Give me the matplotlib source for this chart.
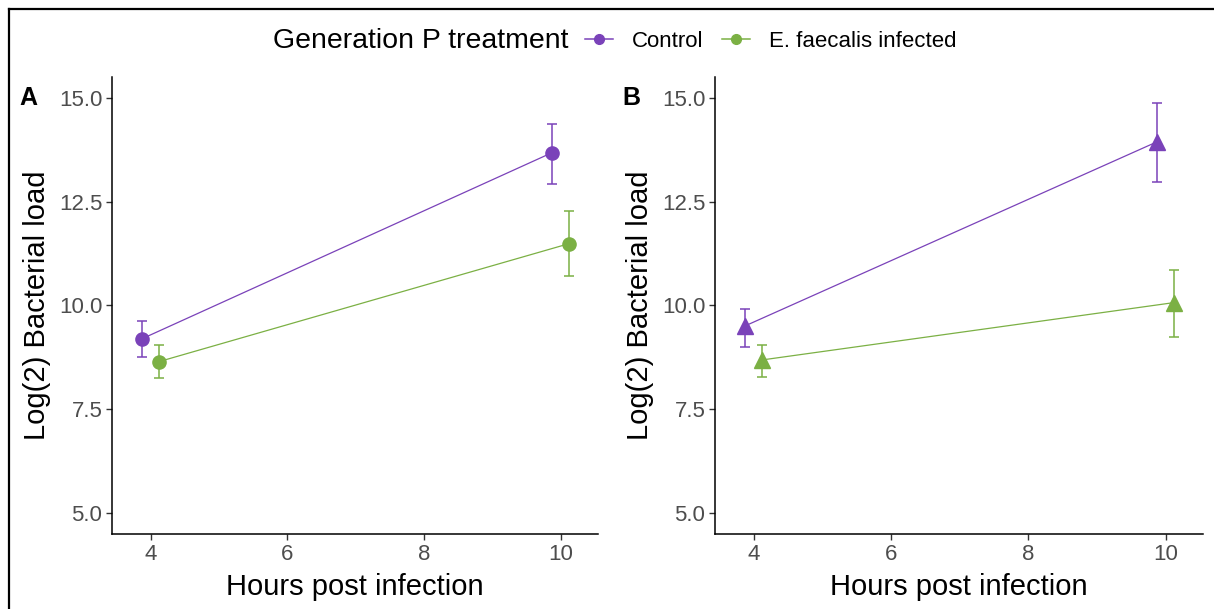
import matplotlib
matplotlib.use("Agg")
import matplotlib.pyplot as plt
from matplotlib.lines import Line2D

plt.rcParams['font.family'] = ['Liberation Sans', 'DejaVu Sans']

# Hours post infection, dodged per treatment
hours = [4, 10]
dodge = 0.125

# Panel A (circles)
a_ctrl_mean = [9.20, 13.68]
a_ctrl_lo = [8.77, 12.93]
a_ctrl_hi = [9.63, 14.37]
a_inf_mean = [8.65, 11.49]
a_inf_lo = [8.26, 10.72]
a_inf_hi = [9.06, 12.28]

# Panel B (triangles)
b_ctrl_mean = [9.51, 13.94]
b_ctrl_lo = [9.01, 12.98]
b_ctrl_hi = [9.92, 14.88]
b_inf_mean = [8.69, 10.07]
b_inf_lo = [8.29, 9.25]
b_inf_hi = [9.06, 10.86]

groups = ['Control', 'E. faecalis infected']
colors = ['#7a42b9', '#7bb044']
yticks = [5.0, 7.5, 10.0, 12.5, 15.0]
xticks = [4, 6, 8, 10]

fig = plt.figure(figsize=(12.14, 6.09), dpi=100)
axA = fig.add_axes([0.0923, 0.1232, 0.4003, 0.7504])
axB = fig.add_axes([0.589, 0.1232, 0.4020, 0.7504])


def draw_panel(ax, series, marker, msize, letter):
    for (mean, lo, hi), col, off in zip(series, colors, [-dodge, dodge]):
        x = [h + off for h in hours]
        err = [[m - l for m, l in zip(mean, lo)], [h - m for m, h in zip(mean, hi)]]
        ax.plot(x, mean, color=col, lw=0.9, zorder=2)
        ax.errorbar(x, mean, yerr=err, fmt='none', ecolor=col, elinewidth=1.1,
                    capsize=3.5, capthick=1.1, zorder=3)
        ax.plot(x, mean, ls='none', marker=marker, ms=msize, color=col, zorder=4)
    ax.set_xlim(3.435, 10.545)
    ax.set_ylim(4.5, 15.5)
    ax.set_xticks(xticks)
    ax.set_yticks(yticks)
    ax.set_yticklabels(['%.1f' % t for t in yticks])
    for s in ['top', 'right']:
        ax.spines[s].set_visible(False)
    for s in ['left', 'bottom']:
        ax.spines[s].set_linewidth(1.1)
        ax.spines[s].set_color('black')
    ax.tick_params(labelsize=16, labelcolor='#4d4d4d', color='#333333',
                   length=4, width=1.0, pad=3)
    ax.set_xlabel('Hours post infection', fontsize=21, labelpad=6)
    ax.set_ylabel('Log(2) Bacterial load', fontsize=21, labelpad=6)
    ax.text(-0.19, 0.955, letter, transform=ax.transAxes, fontsize=18,
            fontweight='bold', ha='left', va='center')


draw_panel(axA, [(a_ctrl_mean, a_ctrl_lo, a_ctrl_hi), (a_inf_mean, a_inf_lo, a_inf_hi)],
           'o', 9.5, 'A')
draw_panel(axB, [(b_ctrl_mean, b_ctrl_lo, b_ctrl_hi), (b_inf_mean, b_inf_lo, b_inf_hi)],
           '^', 11, 'B')

# Legend across the top
handles = [Line2D([], [], color=c, lw=1.1, marker='o', ms=7) for c in colors]
fig.text(0.468, 0.932, 'Generation P treatment', fontsize=20.5, ha='right', va='center')
fig.legend(handles, groups, loc='center left', bbox_to_anchor=(0.482, 0.932),
           ncol=2, frameon=False, fontsize=16, handlelength=1.25,
           handletextpad=0.85, columnspacing=0.85, borderpad=0, borderaxespad=0)

# Frame lines along the top and left edges
fig.add_artist(Line2D([0.0074, 1.0], [0.985, 0.985], color='black', lw=1.6))
fig.add_artist(Line2D([0.0074, 0.0074], [0.0, 0.985], color='black', lw=1.6))

fig.savefig('out.png', dpi=100)
